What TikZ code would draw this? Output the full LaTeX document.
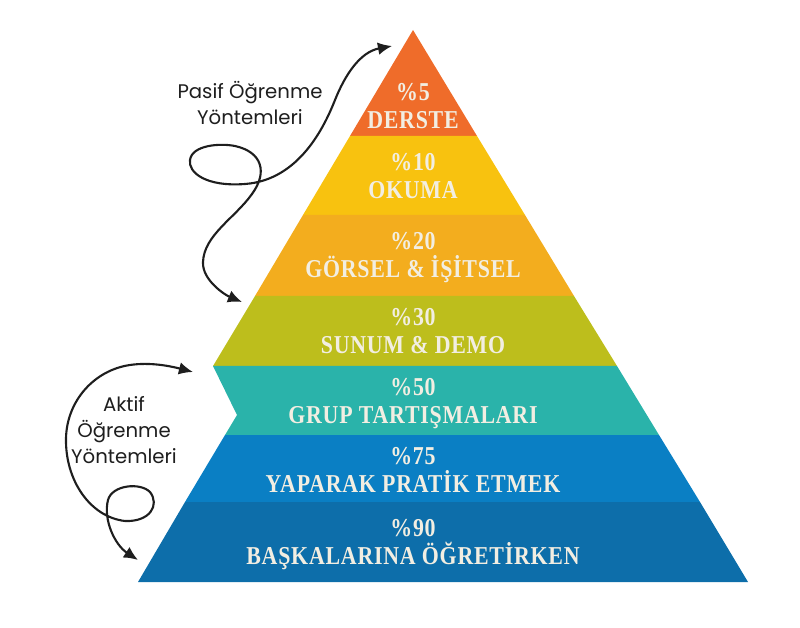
\documentclass[tikz,border=0pt]{standalone}
\usepackage{fontspec}
\usepackage{tikz}
\usetikzlibrary{arrows.meta}
\newfontfamily\layerfont[FakeStretch=0.85,LetterSpace=3]{Liberation Serif}
\newfontfamily\notefont{Poppins}
\definecolor{c1}{HTML}{EF6C2A}
\definecolor{c2}{HTML}{F8C20F}
\definecolor{c3}{HTML}{F3AD1E}
\definecolor{c4}{HTML}{BDBE1C}
\definecolor{c5}{HTML}{2AB3AA}
\definecolor{c6}{HTML}{0A7FC4}
\definecolor{c7}{HTML}{0D6EAA}
\definecolor{layertext}{HTML}{F2EEE2}
\definecolor{ink}{HTML}{1E1E1E}

\begin{document}
\begin{tikzpicture}[x=0.025cm,y=-0.025cm]
  \tikzset{layer/.style = {align=center,text=layertext,inner sep=0pt,font=\layerfont\bfseries\fontsize{18.3}{20}\selectfont}}
  \tikzset{note/.style = {align=center,text=ink,inner sep=0pt,font=\notefont\fontsize{14}{18.5}\selectfont}}
  \tikzset{curl/.style = {{Latex[length=10pt,width=9pt]}-{Latex[length=10pt,width=9pt]},line width=1.5pt,ink}}
  \useasboundingbox (0,0) rectangle (800,628);

	\fill[c1] (413,30) -- (477,136) -- (350,136) -- cycle;
	\fill[c2] (350,136) -- (477,136) -- (525,215) -- (303,215) -- cycle;
	\fill[c3] (303,215) -- (525,215) -- (574,296) -- (255,296) -- cycle;
	\fill[c4] (255,296) -- (574,296) -- (617,366) -- (213,366) -- cycle;
	\fill[c5] (213,366) -- (617,366) -- (659,435) -- (225,435) -- (237,415) -- cycle;
	\fill[c6] (225,435) -- (659,435) -- (700,502) -- (185,502) -- cycle;
	\fill[c7] (185,502) -- (700,502) -- (748,582) -- (138,582) -- cycle;

    \foreach \n/\y/\p/\t in {1/106/5/DERSTE,2/176/10/OKUMA,3/258/20/GÖRSEL \& İŞİTSEL,4/331/30/SUNUM \& DEMO,5/404/50/GRUP TARTIŞMALARI,6/470/75/YAPARAK PRATİK ETMEK,7/545/90/BAŞKALARINA ÖĞRETİRKEN}
    \node[layer] (l\n) at (413,\y) {\%\p\\\t};

	\node[note] (pasif) at (250,103) {Pasif Öğrenme\\Yöntemleri};
	\node[note] (aktif) at (124,430) {Aktif\\Öğrenme\\Yöntemleri};

	\coordinate (pasif top) at (392,46);
	\coordinate (pasif bottom) at (242,302);
	\coordinate (aktif top) at (193,372);
	\coordinate (aktif bottom) at (138,560);

    \draw[curl] (pasif top) .. controls (360,52) and (345,75) .. (335,100)
      .. controls (325,125) and (300,180) .. (245,184)
      .. controls (205,187) and (188,172) .. (190,160)
      .. controls (192,145) and (220,143) .. (235,146)
      .. controls (262,152) and (268,172) .. (252,194)
      .. controls (235,218) and (204,235) .. (203,262)
      .. controls (202,280) and (225,295) .. (pasif bottom);
    \draw[curl] (aktif top) .. controls (170,366) and (150,362) .. (130,365)
      .. controls (95,370) and (67,400) .. (66,438)
      .. controls (65,480) and (90,517) .. (125,521)
      .. controls (150,522) and (160,505) .. (150,492)
      .. controls (140,482) and (112,485) .. (108,500)
      .. controls (103,520) and (115,545) .. (aktif bottom);
   
\end{tikzpicture}
\end{document}
